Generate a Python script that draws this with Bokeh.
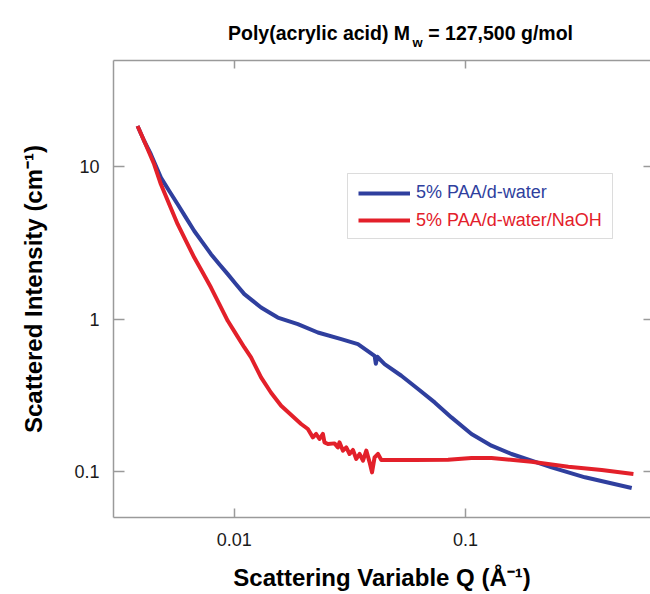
from bokeh.plotting import figure
from bokeh.layouts import column
from bokeh.models import (Legend, LegendItem, Label, BoxAnnotation, LogAxis,
                          FixedTicker)
from bokeh.embed import file_html
from bokeh.resources import INLINE

# ---------------- data ----------------
q_water = [0.003813, 0.004073, 0.004353, 0.004811, 0.005228, 0.005685, 0.006174,
           0.006708, 0.007295, 0.007925, 0.008610, 0.009363, 0.01017, 0.01105,
           0.01202, 0.01305, 0.01418, 0.01542, 0.01704, 0.01883, 0.02299,
           0.02901, 0.03426, 0.04044, 0.04094, 0.04156, 0.04469, 0.05280,
           0.06237, 0.07360, 0.08696, 0.1062, 0.1296, 0.1582, 0.1932,
           0.2359, 0.3290, 0.5241]
i_water = [18.57, 14.81, 12.12, 8.51, 6.96, 5.69, 4.65,
           3.80, 3.188, 2.676, 2.301, 1.979, 1.701, 1.463,
           1.322, 1.195, 1.108, 1.027, 0.9777, 0.930, 0.819,
           0.742, 0.688, 0.576, 0.5107, 0.5675, 0.5083, 0.4261,
           0.3485, 0.2847, 0.2270, 0.1767, 0.1481, 0.1306, 0.1181,
           0.1067, 0.0918, 0.0781]

q_naoh = [0.003813, 0.004073, 0.004498, 0.004811, 0.005228, 0.005685, 0.006174,
          0.006708, 0.007295, 0.007925, 0.008610, 0.009363, 0.01017, 0.01105,
          0.01181, 0.01305, 0.01442, 0.01594, 0.01945, 0.02080, 0.02187,
          0.02260, 0.02336, 0.02416, 0.02455, 0.02540, 0.02713, 0.02806,
          0.02851, 0.02951, 0.03050, 0.03152, 0.03260, 0.03369, 0.03482,
          0.03603, 0.03724, 0.03849, 0.03942, 0.04044, 0.04184, 0.04324,
          0.06029, 0.08414, 0.1062, 0.1296, 0.1932, 0.2787, 0.3886, 0.5331]
i_naoh = [18.57, 14.81, 10.42, 7.70, 5.69, 4.210, 3.272,
          2.542, 2.027, 1.616, 1.258, 0.9776, 0.7998, 0.6532,
          0.5617, 0.4153, 0.3296, 0.2709, 0.2055, 0.1905, 0.1678,
          0.1767, 0.1638, 0.1767, 0.1556, 0.1519, 0.1533, 0.1443,
          0.1556, 0.1373, 0.1443, 0.1306, 0.1388, 0.1211, 0.1306,
          0.1181, 0.1373, 0.1151, 0.0989, 0.1241, 0.1306, 0.1193,
          0.1193, 0.1199, 0.1229, 0.1229, 0.1163, 0.1078, 0.1026, 0.0966]

series_names = ["5% PAA/d-water", "5% PAA/d-water/NaOH"]

x_ticks = [0.01, 0.1]
x_tick_labels = ["0.01", "0.1"]
y_ticks = [0.1, 1, 10]
y_tick_labels = ["0.1", "1", "10"]

title_main = "Poly(acrylic acid) M"
title_sub = "w"
title_tail = "= 127,500 g/mol"
x_label = "Scattering Variable Q (Å⁻¹)"
y_label = "Scattered Intensity (cm⁻¹)"

# ---------------- style ----------------
FONT = "Liberation Sans"
BLUE = "#2f3f9e"
RED = "#e3202a"
GRAY = "#9a9a9a"

# ---------------- title strip (own small figure, text with a subscript) ----------------
TW, TH = 650, 56
tp = figure(width=TW, height=TH, x_range=(0, TW), y_range=(TH, 0),
            output_backend="svg", toolbar_location=None,
            x_axis_location=None, y_axis_location=None, min_border=0,
            min_border_left=0, min_border_right=0,
            min_border_top=0, min_border_bottom=0)
tp.outline_line_color = None
tp.grid.visible = False
tp.background_fill_color = "white"
tp.border_fill_color = "white"
tp.add_layout(Label(x=359, y=32, text=title_main, text_align="right",
                    text_baseline="alphabetic", text_font=FONT,
                    text_font_size="19.5px", text_font_style="bold",
                    text_color="black"))
tp.add_layout(Label(x=362, y=42, text=title_sub, text_align="left",
                    text_baseline="alphabetic", text_font=FONT,
                    text_font_size="13px", text_font_style="bold",
                    text_color="black"))
tp.add_layout(Label(x=381, y=32, text=title_tail, text_align="left",
                    text_baseline="alphabetic", text_font=FONT,
                    text_font_size="19.5px", text_font_style="bold",
                    text_color="black"))

# ---------------- main plot ----------------
p = figure(width=650, height=594 - TH,
           x_axis_type="log", y_axis_type="log",
           x_range=(0.003, 0.632), y_range=(0.05, 50),
           output_backend="svg", toolbar_location=None,
           min_border_left=113, min_border_right=0,
           min_border_top=4, min_border_bottom=77)
p.outline_line_color = None
p.xgrid.visible = False
p.ygrid.visible = False
p.background_fill_color = "white"
p.border_fill_color = "white"

for ax, ticks, labels, tick_len in [(p.xaxis[0], x_ticks, x_tick_labels, 9),
                                    (p.yaxis[0], y_ticks, y_tick_labels, 11)]:
    ax.ticker = FixedTicker(ticks=ticks)
    ax.major_label_overrides = dict(zip(ticks, labels))
    ax.major_tick_in = tick_len
    ax.major_tick_out = 0
    ax.minor_tick_in = 0
    ax.minor_tick_out = 0
    ax.axis_line_color = GRAY
    ax.axis_line_width = 1.5
    ax.major_tick_line_color = GRAY
    ax.major_tick_line_width = 1.5
    ax.major_label_text_font = FONT
    ax.major_label_text_font_size = "18px"
    ax.major_label_text_color = "#1a1a1a"
    ax.axis_label_text_font = FONT
    ax.axis_label_text_font_size = "24px"
    ax.axis_label_text_font_style = "bold"
    ax.axis_label_text_color = "black"

p.xaxis[0].axis_label = x_label
p.xaxis[0].major_label_standoff = 15
p.xaxis[0].axis_label_standoff = 15
p.yaxis[0].axis_label = y_label
p.yaxis[0].major_label_standoff = 14
p.yaxis[0].axis_label_standoff = 24

top_axis = LogAxis(ticker=FixedTicker(ticks=x_ticks),
                   major_tick_in=8, major_tick_out=0,
                   minor_tick_in=0, minor_tick_out=0,
                   axis_line_color=GRAY, axis_line_width=1.5,
                   major_tick_line_color=GRAY, major_tick_line_width=1.5,
                   major_label_text_color=None, major_label_text_font_size="1px",
                   major_label_standoff=0)
p.add_layout(top_axis, "above")

right_axis = LogAxis(ticker=FixedTicker(ticks=y_ticks),
                     major_tick_in=7, major_tick_out=0,
                     minor_tick_in=0, minor_tick_out=0,
                     axis_line_color=None,
                     major_tick_line_color=GRAY, major_tick_line_width=1.5,
                     major_label_text_color=None, major_label_text_font_size="1px",
                     major_label_standoff=0)
p.add_layout(right_axis, "right")

r1 = p.line(q_water, i_water, line_color=BLUE, line_width=4, line_join="round")
r2 = p.line(q_naoh, i_naoh, line_color=RED, line_width=4, line_join="round")

# legend: box + two single-item legends (each with its own text colour)
box = BoxAnnotation(left=234, right=499, bottom=279, top=344,
                    left_units="screen", right_units="screen",
                    bottom_units="screen", top_units="screen",
                    fill_alpha=0, line_color="#8c8c8c", line_width=1)
p.add_layout(box)

for name, rend, col, ypos in [(series_names[0], r1, BLUE, 314),
                              (series_names[1], r2, RED, 286.5)]:
    leg = Legend(items=[LegendItem(label=name, renderers=[rend])],
                 location=(245, ypos), padding=0, margin=0, spacing=0,
                 glyph_width=52, glyph_height=20, label_height=20,
                 label_standoff=6, border_line_color=None,
                 background_fill_alpha=0,
                 label_text_font=FONT, label_text_font_size="18px",
                 label_text_color=col)
    p.add_layout(leg)

layout = column(tp, p)
open("out.html", "w").write(file_html(layout, INLINE))
